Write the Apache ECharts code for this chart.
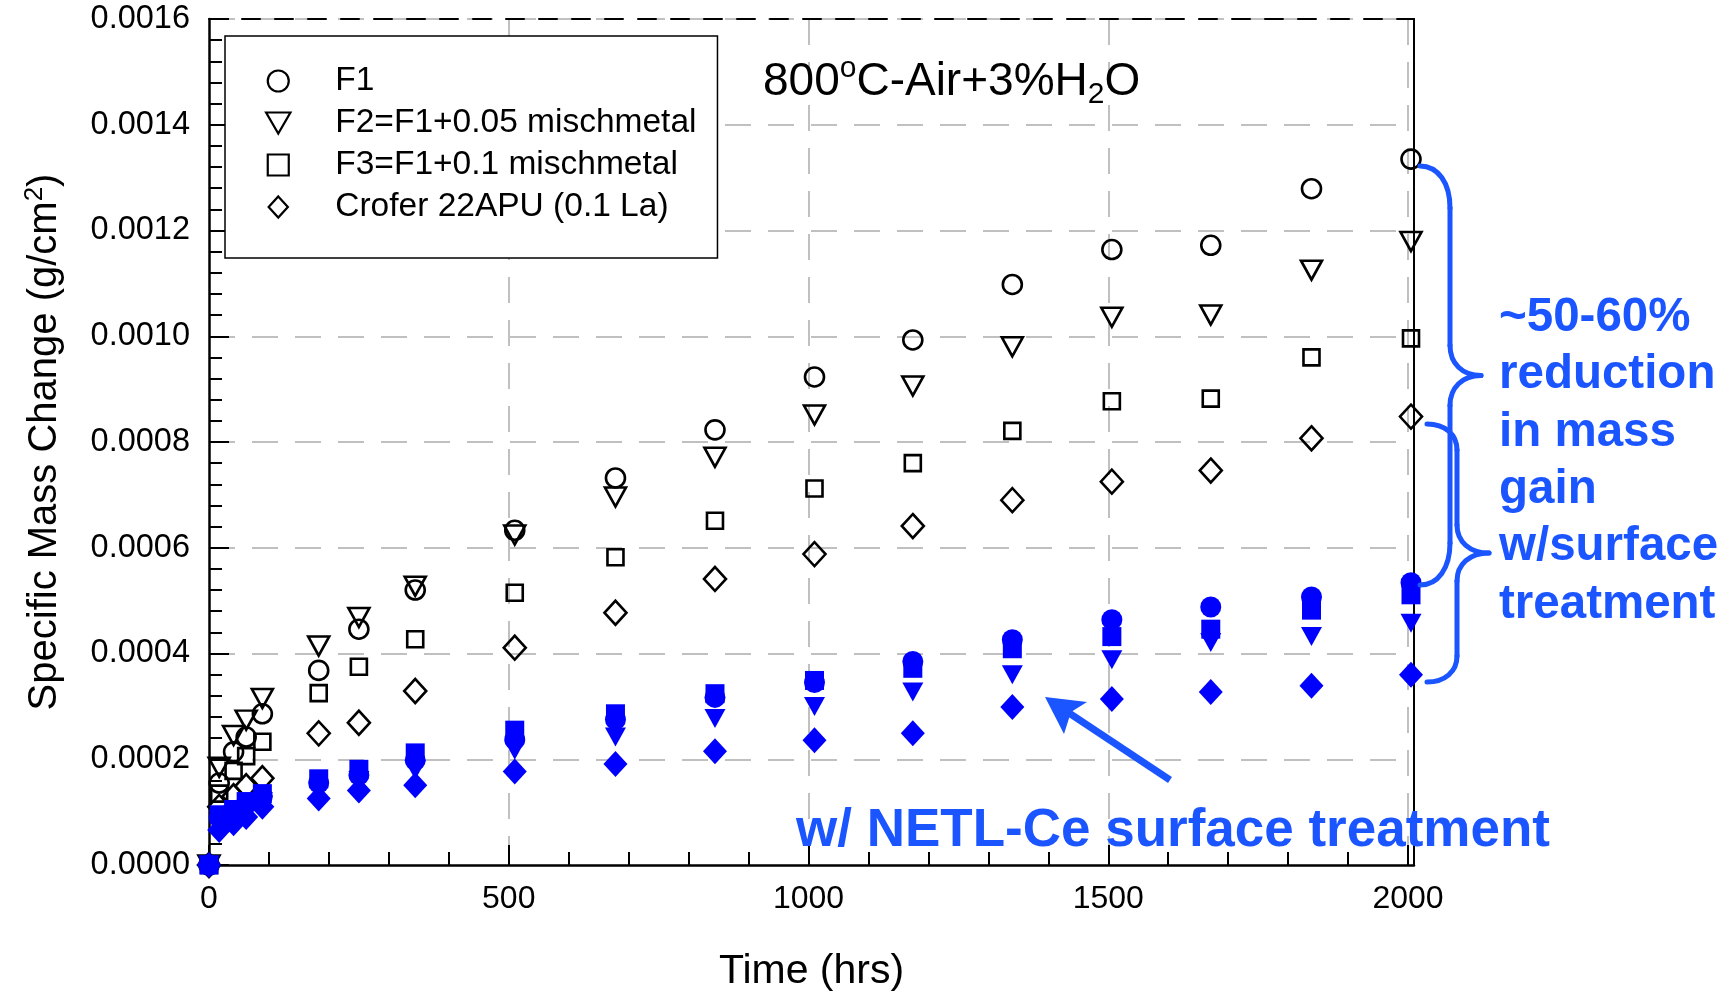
<!DOCTYPE html>
<html><head><meta charset="utf-8">
<script src="https://cdn.jsdelivr.net/npm/echarts@6/dist/echarts.min.js"></script>
<style>html,body{margin:0;padding:0;background:#fff}#c{width:1735px;height:993px}</style>
</head><body><div id="c"></div>
<script>
// ---- data (hours, g/cm^2) ----
const times = [0, 17, 41, 62, 89, 183, 250, 344, 510, 678, 844, 1010, 1174, 1340, 1506, 1671, 1839, 2005];
const f1     = [0, 0.000155, 0.000214, 0.000242, 0.000286, 0.000368, 0.000446, 0.000520, 0.000633, 0.000732, 0.000823, 0.000923, 0.000993, 0.001098, 0.001164, 0.001172, 0.001279, 0.001335];
const f2     = [0, 0.000185, 0.000245, 0.000274, 0.000315, 0.000414, 0.000468, 0.000527, 0.000624, 0.000696, 0.000771, 0.000851, 0.000906, 0.000980, 0.001036, 0.001040, 0.001125, 0.001179];
const f3     = [0, 0.000135, 0.000178, 0.000206, 0.000233, 0.000325, 0.000375, 0.000427, 0.000515, 0.000582, 0.000651, 0.000712, 0.000760, 0.000821, 0.000877, 0.000882, 0.000960, 0.000996];
const crofer = [0, 0.000110, 0.000130, 0.000149, 0.000164, 0.000249, 0.000269, 0.000329, 0.000411, 0.000477, 0.000541, 0.000588, 0.000641, 0.000690, 0.000725, 0.000746, 0.000807, 0.000848];
// with NETL-Ce surface treatment
const f1Ce     = [0, 0.000090, 0.000100, 0.000115, 0.000130, 0.000155, 0.000170, 0.000198, 0.000237, 0.000275, 0.000317, 0.000345, 0.000385, 0.000426, 0.000464, 0.000488, 0.000507, 0.000534];
const f2Ce     = [0, 0.000085, 0.000095, 0.000105, 0.000120, 0.000140, 0.000160, 0.000179, 0.000217, 0.000242, 0.000277, 0.000300, 0.000327, 0.000360, 0.000388, 0.000421, 0.000432, 0.000457];
const f3Ce     = [0, 0.000095, 0.000105, 0.000120, 0.000135, 0.000163, 0.000181, 0.000212, 0.000255, 0.000286, 0.000324, 0.000349, 0.000372, 0.000409, 0.000432, 0.000446, 0.000482, 0.000511];
const croferCe = [0, 0.000066, 0.000079, 0.000091, 0.000110, 0.000126, 0.000141, 0.000151, 0.000177, 0.000191, 0.000215, 0.000236, 0.000249, 0.000299, 0.000314, 0.000327, 0.000339, 0.000360];

const seriesNames = ['F1', 'F2=F1+0.05 mischmetal', 'F3=F1+0.1 mischmetal', 'Crofer 22APU (0.1 La)'];
const xTickLabels = ['0', '500', '1000', '1500', '2000'];
const yTickDecimals = 4;

const FONT = "'Liberation Sans', Arial, Helvetica, sans-serif";
const BLUE_MARK = '#0000ff';
const BLUE_NOTE = '#1a55ff';

const pairs = ys => times.map((t, i) => [t, ys[i]]);

function openSeries(name, symbol, size, rot, ys) {
  return { type: 'scatter', name, symbol, symbolSize: size, symbolRotate: rot, data: pairs(ys), clip: false, z: 3,
    itemStyle: { color: 'rgba(255,255,255,0)', borderColor: '#000', borderWidth: 2.6, opacity: 1 }, emphasis: { disabled: true } };
}
function filledSeries(name, symbol, size, rot, ys) {
  return { type: 'scatter', name, symbol, symbolSize: size, symbolRotate: rot, data: pairs(ys), clip: false, z: 4,
    itemStyle: { color: BLUE_MARK, borderWidth: 0, opacity: 1 }, emphasis: { disabled: true } };
}

// curly brace built from bezier curves and lines (pixel annotation)
function brace(xa, ya, yb, xv, xt, rEnd, rTip) {
  const ym = (ya + yb) / 2;
  const st = { stroke: BLUE_NOTE, lineWidth: 5, fill: null, lineCap: 'round' };
  const els = [];
  const bez = (x1, y1, cx1, cy1, cx2, cy2, x2, y2) => els.push({ type: 'bezierCurve', shape: { x1, y1, cpx1: cx1, cpy1: cy1, cpx2: cx2, cpy2: cy2, x2, y2 }, style: st, z: 10 });
  const ln = (x1, y1, x2, y2) => els.push({ type: 'line', shape: { x1, y1, x2, y2 }, style: st, z: 10 });
  bez(xa, ya, xa + (xv - xa) * 0.6, ya, xv, ya + rEnd * 0.4, xv, ya + rEnd);
  ln(xv, ya + rEnd, xv, ym - rTip);
  bez(xv, ym - rTip, xv, ym - rTip * 0.4, xv + (xt - xv) * 0.4, ym, xt, ym);
  bez(xt, ym, xv + (xt - xv) * 0.4, ym, xv, ym + rTip * 0.4, xv, ym + rTip);
  ln(xv, ym + rTip, xv, yb - rEnd);
  bez(xv, yb - rEnd, xv, yb - rEnd * 0.4, xa + (xv - xa) * 0.6, yb, xa, yb);
  return els;
}

const gridLineX = { show: true, lineStyle: { color: '#c0c0c0', width: 2, type: [26, 17] }, showMinLine: false, showMaxLine: false };
const gridLineY = { show: true, lineStyle: { color: '#c0c0c0', width: 2, type: [26, 17] }, showMinLine: false, showMaxLine: true };
const GRID = { left: 209, right: 321, top: 19, bottom: 128, containLabel: false, outerBoundsMode: 'none' };
const frameOnly = { axisLabel: { show: false }, splitLine: { show: false }, axisTick: { show: false } };

const chart = echarts.init(document.getElementById('c'), null, { renderer: 'canvas' });
const option = {
  animation: false,
  backgroundColor: '#fff',
  textStyle: { fontFamily: FONT },
  grid: [
    Object.assign({ show: false }, GRID),
    Object.assign({ show: false }, GRID)
  ],
  legend: {
    data: seriesNames.map((n, i) => ({
      name: n,
      icon: ['circle', 'path://M0,0 L22,0 L11,19 Z', 'path://M0,0 L16,0 L16,16 L0,16 Z', 'path://M11,0 L22,12 L11,24 L0,12 Z'][i],
      itemStyle: { color: 'rgba(255,255,255,0)', borderColor: '#000', borderWidth: 2.2 }
    })),
    orient: 'vertical', left: 225, top: 36,
    padding: [28, 21, 34, 40],
    itemWidth: 104, itemHeight: 21, itemGap: 8,
    borderColor: '#000', borderWidth: 1.5, backgroundColor: '#fff',
    selectedMode: false,
    textStyle: { fontSize: 33.5, color: '#000', fontFamily: FONT, lineHeight: 33.5 }
  },
  xAxis: [
    { type: 'value', gridIndex: 0, min: 0, max: 2010, interval: 500,
      axisLine: { show: true, onZero: false, lineStyle: { color: '#000', width: 2.5 } },
      axisTick: { show: true, inside: true, length: 20, lineStyle: { color: '#000', width: 2 } },
      axisLabel: { show: true, fontSize: 32, color: '#000', margin: 18, fontFamily: FONT, showMaxLabel: false,
        formatter: v => { const i = [0, 500, 1000, 1500, 2000].indexOf(v); return i >= 0 ? xTickLabels[i] : ''; } },
      splitLine: gridLineX,
      name: 'Time (hrs)', nameLocation: 'middle', nameGap: 86,
      nameTextStyle: { fontSize: 41, color: '#000', fontFamily: FONT } },
    { type: 'value', gridIndex: 1, min: 0, max: 2010, interval: 100, position: 'bottom',
      axisLine: { show: false }, axisLabel: { show: false }, splitLine: { show: false },
      axisTick: { show: true, inside: true, length: 13, lineStyle: { color: '#000', width: 2 } } },
    Object.assign({ type: 'value', gridIndex: 1, min: 0, max: 2010, position: 'top',
      axisLine: { show: true, onZero: false, lineStyle: { color: '#000', width: 2, type: [18, 15] } } }, frameOnly)
  ],
  yAxis: [
    { type: 'value', gridIndex: 0, min: 0, max: 0.0016, interval: 0.0002,
      axisLine: { show: true, onZero: false, lineStyle: { color: '#000', width: 2.5 } },
      axisTick: { show: true, inside: true, length: 20, lineStyle: { color: '#000', width: 2 } },
      axisLabel: { show: true, fontSize: 32.5, color: '#000', margin: 19, fontFamily: FONT, formatter: v => v.toFixed(yTickDecimals) },
      splitLine: gridLineY,
      name: '{a|Specific Mass Change (g/cm}{s|2}{a|)}', nameLocation: 'middle', nameGap: 141, nameRotate: 90,
      nameTextStyle: { color: '#000', fontFamily: FONT, rich: {
        a: { fontSize: 40, lineHeight: 46, color: '#000', fontFamily: FONT },
        s: { fontSize: 26, lineHeight: 22, verticalAlign: 'top', color: '#000', fontFamily: FONT } } } },
    { type: 'value', gridIndex: 1, min: 0, max: 0.0016, interval: 0.00004, position: 'left',
      axisLine: { show: false }, axisLabel: { show: false }, splitLine: { show: false },
      axisTick: { show: true, inside: true, length: 13, lineStyle: { color: '#000', width: 2 } } },
    Object.assign({ type: 'value', gridIndex: 1, min: 0, max: 0.0016, position: 'right',
      axisLine: { show: true, onZero: false, lineStyle: { color: '#000', width: 2 } } }, frameOnly)
  ],
  series: [
    openSeries(seriesNames[0], 'circle', 19, 0, f1),
    openSeries(seriesNames[1], 'triangle', [21, 19], 180, f2),
    openSeries(seriesNames[2], 'rect', 16, 0, f3),
    openSeries(seriesNames[3], 'diamond', [22, 24], 0, crofer),
    filledSeries('F1 NETL-Ce', 'circle', 21, 0, f1Ce),
    filledSeries('F2 NETL-Ce', 'triangle', [21, 19], 180, f2Ce),
    filledSeries('F3 NETL-Ce', 'rect', 19, 0, f3Ce),
    filledSeries('Crofer NETL-Ce', 'diamond', [24, 26], 0, croferCe)
  ],
  graphic: [
    { type: 'text', x: 763, y: 82, z: 20, style: {
        text: '{m|800}{sup|o}{m|C-Air+3%H}{sub|2}{m|O}', verticalAlign: 'middle', align: 'left',
        rich: {
          m: { fontSize: 46, lineHeight: 56, fill: '#000', fontFamily: FONT },
          sup: { fontSize: 30, lineHeight: 24, verticalAlign: 'top', fill: '#000', fontFamily: FONT },
          sub: { fontSize: 30, lineHeight: 20, verticalAlign: 'bottom', fill: '#000', fontFamily: FONT }
        } } },
    { type: 'text', x: 796, y: 831, z: 20, style: {
        text: 'w/ NETL-Ce surface treatment', fill: BLUE_NOTE, font: 'bold 53px ' + FONT, verticalAlign: 'middle', align: 'left' } },
    { type: 'text', x: 1499, y: 289, z: 20, style: {
        text: '~50-60%\nreduction\nin mass\ngain\nw/surface\ntreatment', fill: BLUE_NOTE, font: 'bold 47.5px ' + FONT,
        lineHeight: 57.4, verticalAlign: 'top', align: 'left' } },
    { type: 'line', z: 20, shape: { x1: 1170, y1: 780, x2: 1066, y2: 711 }, style: { stroke: BLUE_NOTE, lineWidth: 7 } },
    { type: 'polygon', z: 20, shape: { points: [[1045, 697], [1087, 702], [1071, 712], [1064, 734]] }, style: { fill: BLUE_NOTE } }
  ].concat(brace(1420, 166, 585, 1450, 1481, 42, 30))
   .concat(brace(1427, 424, 682, 1457, 1489, 26, 28))
};
chart.setOption(option);
</script>
</body></html>
